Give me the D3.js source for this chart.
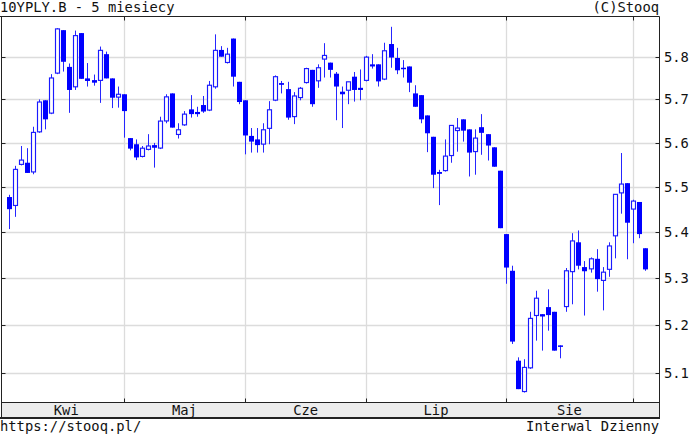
<!DOCTYPE html>
<html><head><meta charset="utf-8">
<script src="https://cdn.jsdelivr.net/npm/d3@7"></script>
<style>
body{margin:0;background:#fff}
svg{display:block}
text{font-family:"DejaVu Sans Mono",monospace;font-size:13.8px;fill:#111}
</style>
</head><body>
<svg id="c" width="691" height="436"></svg>
<script>
// ---- data ----
const openV  = [5.478,5.457,5.549,5.555,5.532,5.623,5.698,5.666,5.759,5.863,5.776,5.727,5.856,5.749,5.745,5.742,5.806,5.749,5.703,5.712,
                5.611,5.597,5.567,5.583,5.595,5.586,5.648,5.714,5.617,5.639,5.677,5.671,5.687,5.673,5.727,5.816,5.784,5.843,5.741,5.698,
                5.616,5.608,5.595,5.631,5.696,5.738,5.724,5.658,5.702,5.737,5.769,5.741,5.792,5.786,5.760,5.718,5.719,5.753,5.727,5.742,
                5.782,5.782,5.745,5.830,5.797,5.774,5.777,5.714,5.710,5.663,5.614,5.534,5.535,5.569,5.626,5.654,5.631,5.578,5.636,5.620,
                5.590,5.537,5.396,5.316,5.125,5.059,5.108,5.218,5.223,5.238,5.228,5.157,5.237,5.312,5.378,5.324,5.318,5.342,5.293,5.317,
                5.390,5.485,5.509,5.449,5.467,5.365];
const highV  = [5.483,5.548,5.593,5.588,5.637,5.700,5.698,5.759,5.868,5.863,5.784,5.862,5.856,5.785,5.758,5.824,5.812,5.749,5.730,5.712,
                5.611,5.608,5.593,5.620,5.600,5.660,5.712,5.714,5.645,5.673,5.710,5.683,5.708,5.743,5.853,5.825,5.821,5.843,5.741,5.698,
                5.634,5.634,5.645,5.696,5.756,5.743,5.741,5.717,5.729,5.774,5.769,5.782,5.832,5.786,5.764,5.730,5.741,5.764,5.770,5.802,
                5.806,5.782,5.833,5.871,5.821,5.792,5.777,5.733,5.710,5.663,5.614,5.539,5.608,5.641,5.657,5.654,5.631,5.631,5.666,5.620,
                5.590,5.537,5.396,5.327,5.132,5.128,5.228,5.273,5.223,5.276,5.228,5.157,5.322,5.398,5.404,5.337,5.345,5.363,5.324,5.378,
                5.484,5.577,5.509,5.472,5.467,5.365];
const lowV   = [5.407,5.434,5.549,5.532,5.529,5.623,5.631,5.666,5.759,5.765,5.669,5.722,5.748,5.730,5.732,5.692,5.749,5.680,5.681,5.612,
                5.583,5.561,5.567,5.583,5.544,5.586,5.645,5.635,5.610,5.639,5.658,5.660,5.669,5.673,5.725,5.800,5.784,5.730,5.689,5.574,
                5.578,5.578,5.578,5.597,5.696,5.714,5.653,5.643,5.698,5.737,5.683,5.727,5.751,5.751,5.652,5.634,5.689,5.695,5.698,5.742,
                5.772,5.730,5.745,5.774,5.759,5.751,5.717,5.683,5.645,5.579,5.498,5.460,5.535,5.555,5.580,5.603,5.524,5.528,5.573,5.560,
                5.546,5.409,5.288,5.160,5.066,5.059,5.108,5.167,5.146,5.188,5.146,5.130,5.228,5.244,5.319,5.220,5.312,5.271,5.231,5.303,
                5.343,5.441,5.341,5.376,5.387,5.316];
const closeV = [5.451,5.540,5.561,5.532,5.624,5.694,5.654,5.750,5.866,5.788,5.722,5.850,5.748,5.743,5.739,5.815,5.749,5.704,5.712,5.673,
                5.587,5.567,5.588,5.593,5.589,5.650,5.706,5.635,5.630,5.666,5.666,5.666,5.672,5.733,5.815,5.800,5.806,5.753,5.694,5.617,
                5.603,5.595,5.630,5.676,5.753,5.734,5.658,5.708,5.726,5.772,5.689,5.774,5.803,5.769,5.730,5.712,5.741,5.722,5.722,5.799,
                5.777,5.742,5.814,5.798,5.768,5.771,5.739,5.683,5.654,5.622,5.528,5.530,5.570,5.640,5.634,5.628,5.578,5.611,5.623,5.594,
                5.546,5.409,5.323,5.165,5.066,5.111,5.214,5.257,5.218,5.221,5.146,5.154,5.316,5.381,5.327,5.315,5.342,5.298,5.313,5.370,
                5.484,5.507,5.421,5.469,5.396,5.319];
const monthNames  = ["Kwi","Maj","Cze","Lip","Sie"];
const monthStarts = [0,19,39,59,82,103];
const yTicks      = [5.1,5.2,5.3,5.4,5.5,5.6,5.7,5.8];
const titleText = "10YPLY.B - 5 miesiecy";
const copyText  = "(C)Stooq";
const urlText   = "https://stooq.pl/";
const intText   = "Interwal Dzienny";

// ---- layout ----
const svg = d3.select("#c");
const L = 1.5, R = 659.5, T = 16.5, B = 402.5, AB = 418;
const n = openV.length;
const x = d3.scaleLinear().domain([0, n - 1]).range([8.7, 645.1]);
const y = d3.scaleLog().domain([5.1, 5.8]).range([372.7, 56.7]);
const px = v => Math.round(v) + 0.5;

// axis band
svg.append("rect").attr("x", L).attr("y", B).attr("width", R - L).attr("height", AB - B).attr("fill", "#ececec");

// grid
const g = svg.append("g");
g.selectAll(".hg").data(yTicks).join("line")
  .attr("x1", L).attr("x2", R).attr("y1", d => px(y(d))).attr("y2", d => px(y(d)))
  .attr("stroke", "#dcdcdc").attr("stroke-width", 1.3);
g.selectAll(".vg").data(monthStarts.slice(1)).join("line")
  .attr("x1", d => px(x(d))).attr("x2", d => px(x(d))).attr("y1", T).attr("y2", B)
  .attr("stroke", "#dcdcdc").attr("stroke-width", 1.3);

// candles
const idx = d3.range(n);
const cg = svg.append("g");
cg.selectAll(".wick").data(idx).join("line")
  .attr("x1", i => px(x(i))).attr("x2", i => px(x(i)))
  .attr("y1", i => y(highV[i])).attr("y2", i => y(lowV[i]))
  .attr("stroke", "#2626ff").attr("stroke-width", 1);
cg.selectAll(".body").data(idx).join("rect")
  .each(function (i) {
    const up = closeV[i] >= openV[i];
    const cx = px(x(i));
    const top = y(Math.max(openV[i], closeV[i]));
    const bot = y(Math.min(openV[i], closeV[i]));
    const h = Math.max(bot - top, 1.5);
    const r = d3.select(this);
    if (up) {
      r.attr("x", cx - 2).attr("width", 4).attr("y", top).attr("height", Math.max(h - 1, 1))
       .attr("fill", "#fff").attr("stroke", "#1a1aff").attr("stroke-width", 1.15);
    } else {
      r.attr("x", cx - 2.5).attr("width", 5).attr("y", top).attr("height", h)
       .attr("fill", "#0000ff");
    }
  });

// frame
const fc = "#222";
svg.append("line").attr("x1", 0).attr("x2", R).attr("y1", T).attr("y2", T).attr("stroke", fc);
svg.append("line").attr("x1", L).attr("x2", L).attr("y1", T).attr("y2", AB).attr("stroke", fc);
svg.append("line").attr("x1", R).attr("x2", R).attr("y1", T).attr("y2", AB + 1).attr("stroke", fc);
svg.append("line").attr("x1", L).attr("x2", R).attr("y1", B).attr("y2", B).attr("stroke", fc);
svg.append("line").attr("x1", 0).attr("x2", R + 0.5).attr("y1", AB).attr("y2", AB).attr("stroke", fc).attr("stroke-width", 2);

// inner ticks
const tk = svg.append("g").attr("stroke", fc);
yTicks.forEach(t => {
  tk.append("line").attr("x1", L).attr("x2", L + 4).attr("y1", px(y(t))).attr("y2", px(y(t)));
  tk.append("line").attr("x1", R - 4).attr("x2", R).attr("y1", px(y(t))).attr("y2", px(y(t)));
});
monthStarts.slice(1).forEach(m => {
  tk.append("line").attr("x1", px(x(m))).attr("x2", px(x(m))).attr("y1", T).attr("y2", T + 4);
  tk.append("line").attr("x1", px(x(m))).attr("x2", px(x(m))).attr("y1", B - 4).attr("y2", B);
});

// y axis labels (right)
const ya = svg.append("g").attr("transform", `translate(${R},0)`)
  .call(d3.axisRight(y).tickValues(yTicks).tickFormat(d3.format(".1f")).tickSize(0).tickPadding(4.5));
ya.select(".domain").remove();
ya.selectAll("text").attr("font-family", null).attr("font-size", null).style("fill", "#111");

// month labels
svg.selectAll(".ml").data(monthNames).join("text")
  .attr("x", (d, i) => x((monthStarts[i] + monthStarts[i + 1]) / 2))
  .attr("y", 415).attr("text-anchor", "middle").text(d => d);

// header / footer
svg.append("text").attr("x", 0).attr("y", 12).text(titleText);
svg.append("text").attr("x", 659).attr("y", 12).attr("text-anchor", "end").text(copyText);
svg.append("text").attr("x", 0).attr("y", 431).text(urlText);
svg.append("text").attr("x", 659).attr("y", 431).attr("text-anchor", "end").text(intText);
</script>
</body></html>
